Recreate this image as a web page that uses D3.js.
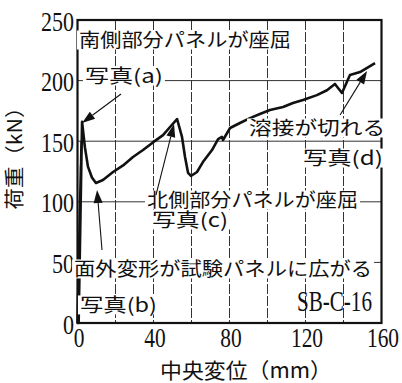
<!DOCTYPE html>
<html lang="ja">
<head>
<meta charset="utf-8">
<script src="https://cdn.jsdelivr.net/npm/d3@7"></script>
<style>
  html, body { margin: 0; padding: 0; background: #fff; }
  svg { display: block; }
</style>
</head>
<body>
<svg id="chart" width="402" height="383"></svg>
<script>
// Load–displacement record (central displacement in mm, load in kN);
// the first points are the elastic load/unload cycles before buckling
const dispMm = [0, 1.8, 0.3, 2.1, 0.6, 2.4, 3.9, 5.5, 7.6, 9.7, 13.4, 18.7, 24.0, 29.2, 34.5, 39.7, 45.0, 48.7, 52.4,
  55.0, 56.6, 58.2, 59.7, 62.9, 66.0, 70.8, 74.0, 76.0, 76.6, 80.3, 85.5, 90.8, 96.0, 101.3,
  108.2, 113.4, 118.7, 126.0, 131.3, 135.5, 139.2, 143.4, 148.7, 156.6];
const loadKN = [0, 130, 0, 150, 0, 166, 145, 129, 120, 115.5, 118, 124.6, 130, 137, 142.7, 149, 155, 161.7, 168.3,
  153.5, 137, 123.8, 121.3, 124.6, 132.8, 142.7, 151.8, 153.5, 151, 160.9, 165, 169, 172.4, 175.7,
  178.2, 181.5, 184, 188, 192, 197.2, 189.8, 204.6, 207, 214.5];

// Axis ticks and grid
const xTickLabels = [0, 40, 80, 120, 160];
const yTickLabels = [0, 50, 100, 150, 200, 250];
const xGrid = [20, 40, 60, 80, 100, 120, 140];
const yGrid = [50, 100, 150, 200];

const xTitle = "中央変位（mm）";
const yTitle = "荷重（kN）";
const specimen = "SB-C-16";

// Annotation texts, anchored in data units (left edge mm, centre kN)
const noteTexts = ["南側部分パネルが座屈", "写真(a)", "溶接が切れる", "写真(d)",
  "北側部分パネルが座屈", "写真(c)", "面外変形が試験パネルに広がる", "写真(b)"];
const noteX = [0.8, 3.9, 90.3, 118.7, 36.6, 39.2, -1.8, 1.3];
const noteY = [233.5, 203.8, 160.9, 136.1, 101.5, 85.0, 44.6, 14.9];
const noteLen = [212, 78, 136, 80, 211, 76, 298, 77];

// Arrows from label to event on the curve (data units)
const arrowFrom = [[22.9, 188.9], [12.9, 60.2], [41.3, 105.6], [138.2, 171.6]];
const arrowTo = [[2.4, 165.0], [10.3, 109.7], [50.8, 164.2], [152.4, 207.9]];

const svg = d3.select("#chart");
const plotL = 77.5, plotR = 381.5, plotT = 20, plotB = 323;

const x = d3.scaleLinear().domain([0, 160]).range([plotL, plotR]);
const y = d3.scaleLinear().domain([0, 250]).range([plotB, plotT]);

const ink = "#111";
const cjk = "'Noto Sans CJK JP', 'Noto Sans', sans-serif";
const serif = "'Liberation Serif', 'DejaVu Serif', serif";

// grid
svg.append("g").selectAll("line").data(xGrid).join("line")
  .attr("x1", d => x(d)).attr("x2", d => x(d))
  .attr("y1", plotT).attr("y2", plotB)
  .attr("stroke", "#333").attr("stroke-width", 1)
  .attr("stroke-dasharray", "10,2");
svg.append("g").selectAll("line").data(yGrid).join("line")
  .attr("x1", plotL).attr("x2", plotR)
  .attr("y1", d => y(d)).attr("y2", d => y(d))
  .attr("stroke", "#333").attr("stroke-width", 1);

// frame
svg.append("rect")
  .attr("x", plotL).attr("y", plotT)
  .attr("width", plotR - plotL).attr("height", plotB - plotT)
  .attr("fill", "none").attr("stroke", ink).attr("stroke-width", 2.2);

// curve
const pts = dispMm.map((d, i) => [d, loadKN[i]]);
svg.append("path")
  .datum(pts)
  .attr("fill", "none")
  .attr("stroke", ink)
  .attr("stroke-width", 2.6)
  .attr("stroke-linejoin", "round")
  .attr("d", d3.line().x(d => x(d[0])).y(d => y(d[1])));

// axes (labels only)
const yAxis = svg.append("g")
  .attr("transform", `translate(${plotL - 3.5},0)`)
  .call(d3.axisLeft(y).tickValues(yTickLabels).tickSize(0).tickPadding(0));
yAxis.select(".domain").remove();
yAxis.selectAll("text")
  .attr("font-family", serif).attr("font-size", 28).attr("fill", ink)
  .attr("dy", "0.36em")
  .attr("textLength", d => String(d).length * 11)
  .attr("lengthAdjust", "spacingAndGlyphs");

const xAxis = svg.append("g")
  .attr("transform", `translate(1,${plotB})`)
  .call(d3.axisBottom(x).tickValues(xTickLabels).tickSize(0).tickPadding(0));
xAxis.select(".domain").remove();
xAxis.selectAll("text")
  .attr("font-family", serif).attr("font-size", 28).attr("fill", ink)
  .attr("dy", "0.84em")
  .attr("textLength", d => String(d).length * 10.7)
  .attr("lengthAdjust", "spacingAndGlyphs");

// axis titles
svg.append("text")
  .attr("x", 246).attr("y", 370.5).attr("dy", "0.36em")
  .attr("text-anchor", "middle")
  .attr("font-family", cjk).attr("font-size", 21).attr("fill", ink)
  .attr("textLength", 172).attr("lengthAdjust", "spacingAndGlyphs")
  .text(xTitle);
svg.append("text")
  .attr("transform", "translate(15,153) rotate(-90)")
  .attr("dy", "0.36em")
  .attr("text-anchor", "middle")
  .attr("font-family", cjk).attr("font-size", 20).attr("fill", ink)
  .attr("textLength", 113).attr("lengthAdjust", "spacingAndGlyphs")
  .text(yTitle);

// annotations with white backing
const notes = noteTexts.map((t, i) => ({ t, x: noteX[i], y: noteY[i], len: noteLen[i] }));
const ng = svg.append("g");
ng.selectAll("rect").data(notes).join("rect")
  .attr("x", d => x(d.x) - 2).attr("y", d => y(d.y) - 9.5)
  .attr("width", d => d.len + 4).attr("height", 19)
  .attr("fill", "#fff");
ng.selectAll("text").data(notes).join("text")
  .attr("x", d => x(d.x)).attr("y", d => y(d.y)).attr("dy", "0.36em")
  .attr("font-family", cjk).attr("font-size", 19).attr("fill", ink)
  .attr("textLength", d => d.len).attr("lengthAdjust", "spacingAndGlyphs")
  .text(d => d.t);

// specimen name
svg.append("text")
  .attr("x", x(115.5)).attr("y", y(18.2)).attr("dy", "0.34em")
  .attr("font-family", serif).attr("font-size", 29).attr("fill", ink)
  .attr("textLength", 75).attr("lengthAdjust", "spacingAndGlyphs")
  .text(specimen);

// arrows
const ag = svg.append("g");
arrowFrom.forEach((f, i) => {
  const x0 = x(f[0]), y0 = y(f[1]);
  const x1 = x(arrowTo[i][0]), y1 = y(arrowTo[i][1]);
  const dx = x1 - x0, dy = y1 - y0, L = Math.hypot(dx, dy);
  const ux = dx / L, uy = dy / L;
  const hl = 13, hw = 4.5;
  const bx = x1 - ux * hl, by = y1 - uy * hl;
  ag.append("line")
    .attr("x1", x0).attr("y1", y0).attr("x2", bx).attr("y2", by)
    .attr("stroke", ink).attr("stroke-width", 1.1);
  ag.append("path")
    .attr("d", `M${x1},${y1}L${bx - uy * hw},${by + ux * hw}L${bx + uy * hw},${by - ux * hw}Z`)
    .attr("fill", ink);
});
</script>
</body>
</html>
